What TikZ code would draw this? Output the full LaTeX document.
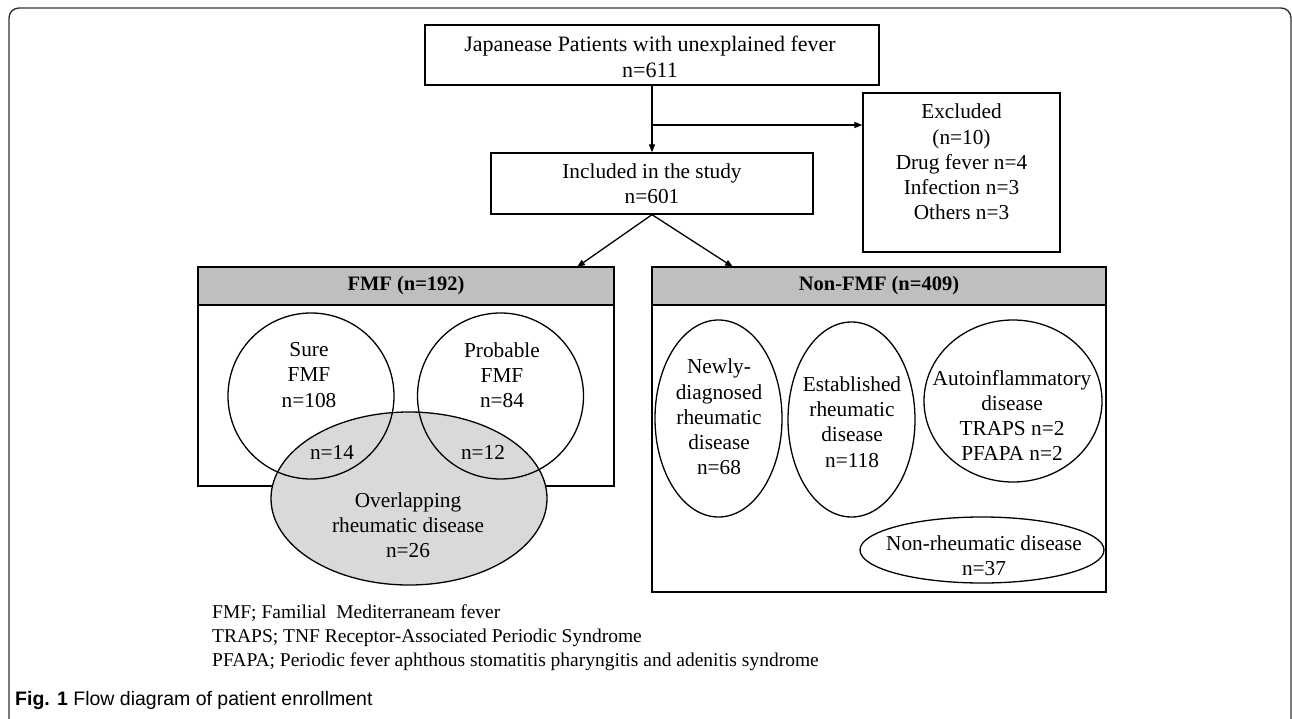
\documentclass[tikz,border=0pt]{standalone}
\usepackage{fontspec}
\setmainfont{Liberation Serif}
\newfontfamily\capfont{Liberation Sans}
\usetikzlibrary{shapes.geometric,arrows.meta}
\definecolor{hdr}{HTML}{BFBFBF}
\definecolor{ovl}{HTML}{D9D9D9}
\definecolor{frame}{HTML}{333333}
\tikzset{
  txt/.style={font=\fontsize{21.3}{25.2}\selectfont, align=center, inner sep=0pt},
  boxn/.style={draw, line width=1.3pt, inner sep=0pt},
  ell/.style={draw, ellipse, line width=1.3pt, inner sep=0pt},
  arr/.style={line width=1.3pt, -{Triangle[length=8pt,width=6pt]}},
  ln/.style={line width=1.3pt},
  hd/.style={boxn, fill=hdr, minimum height=38pt, anchor=north, font=\fontsize{20.5}{25}\selectfont\bfseries},
}
\begin{document}
\begin{tikzpicture}[x=1pt,y=-1pt]
\useasboundingbox (0,0) rectangle (1292,719);
\clip (0,0) rectangle (1292,719);
\draw[frame, line width=1.4pt, rounded corners=10pt] (9,8) rectangle (1291,745);

% top boxes
\node[boxn, minimum width=454pt, minimum height=60pt] (top) at (652,55) {};
\node[txt, font=\fontsize{22}{26}\selectfont] (toptxt) at (650,57) {Japanease Patients with unexplained fever\\n=611};
\node[boxn, minimum width=322pt, minimum height=61pt] (inc) at (652,183.5) {};
\node[txt] (inctxt) at (652,184) {Included in the study\\n=601};
\node[boxn, minimum width=197pt, minimum height=159pt] (excl) at (961.5,172.5) {};
\node[txt] (excltxt) at (961.5,162) {Excluded\\(n=10)\\Drug fever n=4\\Infection n=3\\Others n=3};

\coordinate (j) at (652,125);
\draw[ln] (top.south) -- (j);
\draw[arr] (j) -- (inc.north);
\draw[arr] (j) -- (j -| excl.west);

% FMF box
\node[boxn, minimum width=416pt, minimum height=219pt] (fmf) at (406,376.5) {};
\node[hd, minimum width=416pt] (fmfh) at (fmf.north) {FMF (n=192)};
% Non-FMF box
\node[boxn, minimum width=454pt, minimum height=325pt] (non) at (879,429.5) {};
\node[hd, minimum width=454pt] (nonh) at (non.north) {Non-FMF (n=409)};

\coordinate (fa) at (577,267);
\coordinate (na) at (733,267);
\draw[arr] (inc.south) -- (fa);
\draw[arr] (inc.south) -- (na);

% Venn
\node[ell, fill=ovl, minimum width=276pt, minimum height=173pt] (ovl) at (409,498.5) {};
\node[draw, circle, line width=1.3pt, minimum size=166pt, inner sep=0pt] (sure) at (311,396) {};
\node[draw, circle, line width=1.3pt, minimum size=166pt, inner sep=0pt] (prob) at (500.5,396) {};
\node[txt] (suretxt) at (309,375) {Sure\\FMF\\n=108};
\node[txt] (probtxt) at (502,375) {Probable\\FMF\\n=84};
\node[txt] (n14) at (332,452) {n=14};
\node[txt] (n12) at (483,452) {n=12};
\node[txt] (ovltxt) at (408,525) {Overlapping\\rheumatic disease\\n=26};

% Non-FMF ellipses
\node[ell, minimum width=127pt, minimum height=197pt] (newly) at (718.5,418.5) {};
\node[txt] (newlytxt) at (719,417) {Newly-\\diagnosed\\rheumatic\\disease\\n=68};
\node[ell, minimum width=127pt, minimum height=195pt] (estab) at (851.5,419.5) {};
\node[txt] (estabtxt) at (852,422) {Established\\rheumatic\\disease\\n=118};
\node[ell, minimum width=178pt, minimum height=162pt] (auto) at (1013,401) {};
\node[txt] (autotxt) at (1012,415.5) {Autoinflammatory\\disease\\TRAPS n=2\\PFAPA n=2};
\node[ell, minimum width=244pt, minimum height=66pt] (nonr) at (982,550) {};
\node[txt] (nonrtxt) at (984,555.5) {Non-rheumatic disease\\n=37};

% legend
\node[txt, align=left, anchor=north west, font=\fontsize{19.5}{24}\selectfont] (leg) at (212,605) {FMF; Familial\ \ Mediterraneam fever\\TRAPS; TNF Receptor-Associated Periodic Syndrome\\PFAPA; Periodic fever aphthous stomatitis pharyngitis and adenitis syndrome};

% caption
\node[anchor=west, inner sep=0pt, font=\capfont\fontsize{19.5}{23}\selectfont] (cap) at (15,700) {\textbf{Fig. 1} Flow diagram of patient enrollment};
\end{tikzpicture}
\end{document}
